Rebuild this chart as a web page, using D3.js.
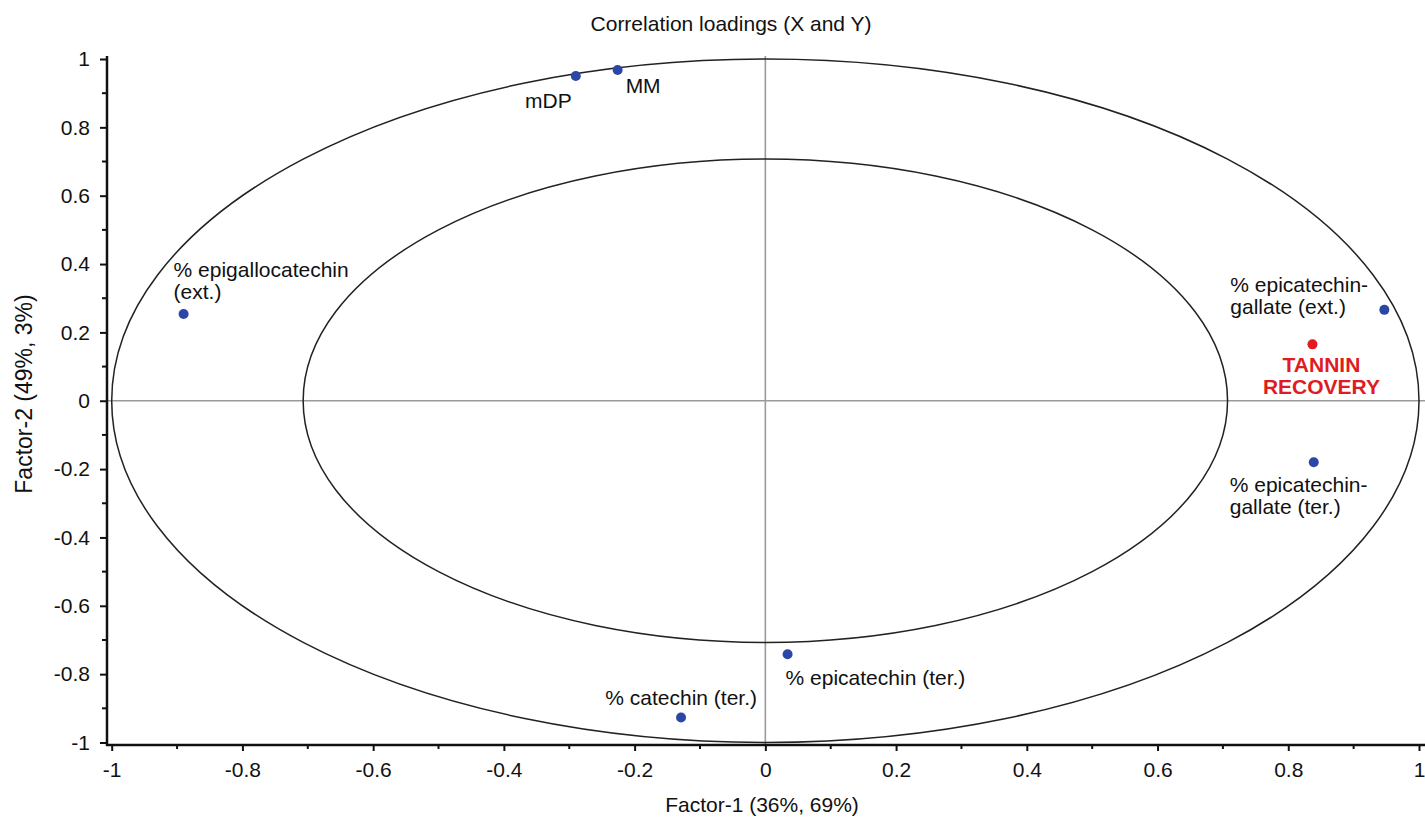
<!DOCTYPE html>
<html>
<head>
<meta charset="utf-8">
<script src="https://cdn.jsdelivr.net/npm/d3@7/dist/d3.min.js"></script>
<style>
  body { margin: 0; background: #fff; }
  text { font-family: "Liberation Sans", Arial, Helvetica, sans-serif; }
</style>
</head>
<body>
<div id="chart"></div>
<script>
// Data
const names = [`mDP`, `MM`, `% epigallocatechin (ext.)`, `% epicatechin-gallate (ext.)`,
               `TANNIN RECOVERY`, `% epicatechin-gallate (ter.)`, `% epicatechin (ter.)`, `% catechin (ter.)`];
const labelLines = [[`mDP`], [`MM`], [`% epigallocatechin`, `(ext.)`], [`% epicatechin-`, `gallate (ext.)`],
                    [`TANNIN`, `RECOVERY`], [`% epicatechin-`, `gallate (ter.)`], [`% epicatechin (ter.)`], [`% catechin (ter.)`]];
const factor1 = [-0.290, -0.226, -0.890, 0.947, 0.837, 0.839, 0.034, -0.129];
const factor2 = [0.950, 0.968, 0.254, 0.266, 0.165, -0.180, -0.742, -0.927];
const isResponse = [false, false, false, false, true, false, false, false];

const majorTicks = [-1, -0.8, -0.6, -0.4, -0.2, 0, 0.2, 0.4, 0.6, 0.8, 1];
const tickLabels = [`-1`, `-0.8`, `-0.6`, `-0.4`, `-0.2`, `0`, `0.2`, `0.4`, `0.6`, `0.8`, `1`];
const minorTicks = [-0.9, -0.7, -0.5, -0.3, -0.1, 0.1, 0.3, 0.5, 0.7, 0.9];
const ellipseRadii = [1, Math.SQRT1_2];

// label placement (pixel offsets from the dot)
const labelPlace = [
  {dx: -4, dy: 32, anchor: `end`},
  {dx: 8, dy: 23, anchor: `start`},
  {dx: -10, dy: -37, anchor: `start`},
  {dx: -154, dy: -18, anchor: `start`},
  {dx: 9, dy: 28, anchor: `middle`},
  {dx: -84, dy: 30, anchor: `start`},
  {dx: -2, dy: 31, anchor: `start`},
  {dx: 76, dy: -13, anchor: `end`}
];

// Constant
const width = 1425;
const height = 818;
const axisX = 107;
const axisY = 745;
const fontSize = `21px`;
const blue = `#2a46a6`;
const red = `#e01b22`;
const lineHeight = 22;

const xScale = d3.scaleLinear().domain([-1, 1]).range([111.7, 1419]);
const yScale = d3.scaleLinear().domain([-1, 1]).range([742.5, 59]);

const svg = d3.select(`#chart`)
  .append(`svg`)
    .attr(`width`, width)
    .attr(`height`, height);

// crosshair
svg.append(`line`)
  .attr(`x1`, axisX).attr(`x2`, width)
  .attr(`y1`, yScale(0)).attr(`y2`, yScale(0))
  .attr(`stroke`, `#9a9a9a`).attr(`stroke-width`, 1.6);
svg.append(`line`)
  .attr(`x1`, xScale(0)).attr(`x2`, xScale(0))
  .attr(`y1`, 56).attr(`y2`, axisY)
  .attr(`stroke`, `#9a9a9a`).attr(`stroke-width`, 1.6);

// correlation ellipses
svg.append(`g`).selectAll(`ellipse`)
  .data(ellipseRadii)
  .join(`ellipse`)
    .attr(`cx`, xScale(0))
    .attr(`cy`, yScale(0))
    .attr(`rx`, r => xScale(r) - xScale(0))
    .attr(`ry`, r => yScale(0) - yScale(r))
    .attr(`fill`, `none`)
    .attr(`stroke`, `#222`)
    .attr(`stroke-width`, 1.5);

// axes
const yAxis = svg.append(`g`)
  .attr(`transform`, `translate(${axisX},0)`)
  .call(d3.axisLeft(yScale).tickValues(majorTicks).tickSize(7).tickPadding(10)
    .tickFormat((d, i) => tickLabels[i]));
yAxis.append(`g`).selectAll(`line`)
  .data(minorTicks)
  .join(`line`)
    .attr(`x1`, -5).attr(`x2`, 0)
    .attr(`y1`, d => yScale(d)).attr(`y2`, d => yScale(d));

const xAxis = svg.append(`g`)
  .attr(`transform`, `translate(0,${axisY})`)
  .call(d3.axisBottom(xScale).tickValues(majorTicks).tickSize(6).tickPadding(11)
    .tickFormat((d, i) => tickLabels[i]));
xAxis.append(`g`).selectAll(`line`)
  .data(minorTicks)
  .join(`line`)
    .attr(`x1`, d => xScale(d)).attr(`x2`, d => xScale(d))
    .attr(`y1`, 0).attr(`y2`, 4);

[xAxis, yAxis].forEach(a => {
  a.select(`.domain`).remove();
  a.selectAll(`line`).attr(`stroke`, `#111`).attr(`stroke-width`, 2);
  a.selectAll(`text`)
    .style(`font-size`, fontSize)
    .style(`font-family`, `"Liberation Sans", Arial, sans-serif`)
    .attr(`fill`, `#111`);
});

svg.append(`line`)
  .attr(`x1`, axisX).attr(`x2`, axisX)
  .attr(`y1`, 56).attr(`y2`, axisY + 1)
  .attr(`stroke`, `#111`).attr(`stroke-width`, 2.5);
svg.append(`line`)
  .attr(`x1`, axisX - 1).attr(`x2`, width)
  .attr(`y1`, axisY).attr(`y2`, axisY)
  .attr(`stroke`, `#111`).attr(`stroke-width`, 2.5);

// titles
svg.append(`text`)
  .attr(`x`, 731).attr(`y`, 31)
  .attr(`text-anchor`, `middle`)
  .style(`font-size`, fontSize)
  .attr(`fill`, `#111`)
  .text(`Correlation loadings (X and Y)`);

svg.append(`text`)
  .attr(`x`, 762).attr(`y`, 812)
  .attr(`text-anchor`, `middle`)
  .style(`font-size`, fontSize)
  .attr(`fill`, `#111`)
  .text(`Factor-1 (36%, 69%)`);

svg.append(`text`)
  .attr(`transform`, `translate(32,394) rotate(-90)`)
  .attr(`text-anchor`, `middle`)
  .style(`font-size`, `23px`)
  .attr(`fill`, `#111`)
  .text(`Factor-2 (49%, 3%)`);

// points
const points = names.map((n, i) => ({name: n, x: factor1[i], y: factor2[i], resp: isResponse[i], lines: labelLines[i], place: labelPlace[i]}));

svg.append(`g`).selectAll(`circle`)
  .data(points)
  .join(`circle`)
    .attr(`cx`, d => xScale(d.x))
    .attr(`cy`, d => yScale(d.y))
    .attr(`r`, 5)
    .attr(`fill`, d => d.resp ? red : blue);

const labels = svg.append(`g`).selectAll(`text`)
  .data(points)
  .join(`text`)
    .attr(`x`, d => xScale(d.x) + d.place.dx)
    .attr(`y`, d => yScale(d.y) + d.place.dy)
    .attr(`text-anchor`, d => d.place.anchor)
    .style(`font-size`, fontSize)
    .style(`font-weight`, d => d.resp ? `bold` : `normal`)
    .attr(`fill`, d => d.resp ? red : `#111`);

labels.selectAll(`tspan`)
  .data(d => d.lines.map((l, j) => ({line: l, j: j, x: xScale(d.x) + d.place.dx})))
  .join(`tspan`)
    .attr(`x`, t => t.x)
    .attr(`dy`, t => t.j === 0 ? 0 : lineHeight)
    .text(t => t.line);
</script>
</body>
</html>
